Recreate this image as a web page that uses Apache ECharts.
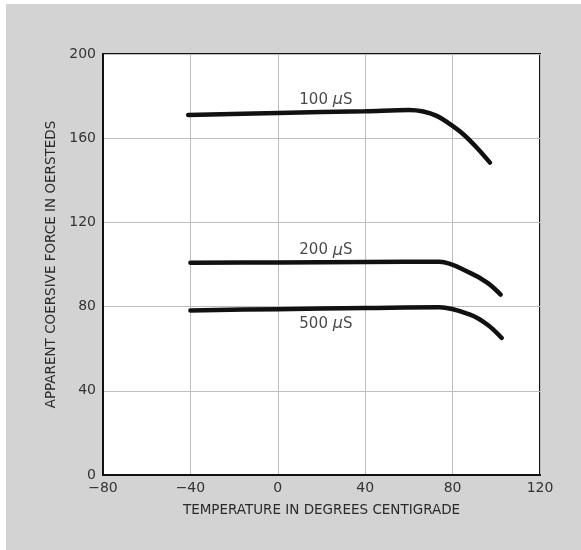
<!DOCTYPE html>
<html>
<head>
<meta charset="utf-8">
<script src="https://cdn.jsdelivr.net/npm/echarts@6/dist/echarts.min.js"></script>
<style>html,body{margin:0;padding:0;background:#fff}#c{width:581px;height:550px}</style>
</head>
<body>
<div id="c"></div>
<script>
var xTicks = [-80, -40, 0, 40, 80, 120];
var yTicks = [0, 40, 80, 120, 160, 200];

var temps100 = [-41, 0, 40, 60, 66.6, 72.7, 78.8, 84.9, 91, 97.1];
var vals100  = [171, 172, 172.8, 173.4, 172.7, 170.6, 166.7, 161.9, 155.6, 148.4];

var temps200 = [-40, 0, 40, 74, 88, 96, 102];
var vals200  = [100.8, 101, 101.2, 101.3, 96, 91.3, 85.7];

var temps500 = [-40, 0, 40, 74, 88, 96, 102.5];
var vals500  = [78.2, 78.8, 79.3, 79.7, 76.2, 71.4, 65.1];

var labelNames = ['100', '200', '500'];
var labelX = [22, 22, 22];
var labelY = [178, 106.7, 71.9];

function pairs(xs, ys) { return xs.map(function (x, i) { return [x, ys[i]]; }); }

var font = "'DejaVu Sans', sans-serif";
var chart = echarts.init(document.getElementById('c'), null, {renderer: 'canvas'});

function curve(xs, ys) {
  return {
    type: 'line', data: pairs(xs, ys), smooth: 0.35,
    showSymbol: false, symbol: 'none',
    lineStyle: {color: '#111', width: 4.5, cap: 'round'}, silent: true
  };
}

var labelSeries = {
  type: 'scatter', symbolSize: 1, silent: true, itemStyle: {color: 'rgba(0,0,0,0)'},
  data: labelNames.map(function (n, i) { return {value: [labelX[i], labelY[i]], name: n}; }),
  label: {
    show: true, position: 'inside', align: 'center', verticalAlign: 'middle',
    formatter: function (p) { return '{t|' + p.name + ' }{mu|\u03bc}{t|S}'; },
    rich: {
      t: {fontFamily: font, fontSize: 15, color: '#1a1a1a'},
      mu: {fontStyle: 'italic', fontSize: 16, fontFamily: font, color: '#1a1a1a'}
    }
  }
};

chart.setOption({
  animation: false,
  backgroundColor: '#ffffff',
  graphic: [{
    type: 'rect', shape: {x: 6, y: 4, width: 575, height: 546},
    style: {fill: '#d3d3d3'}, z: -10
  }],
  grid: {left: 103, right: 41, top: 54, bottom: 75, show: true,
         backgroundColor: '#ffffff', borderColor: '#111', borderWidth: 2},
  xAxis: {
    type: 'value', min: -80, max: 120, interval: 40,
    name: 'TEMPERATURE IN DEGREES CENTIGRADE', nameLocation: 'middle', nameGap: 28,
    nameTextStyle: {fontFamily: font, fontSize: 13.5, color: '#2a2a2a'},
    axisLine: {show: true, onZero: false, lineStyle: {color: '#111', width: 2}},
    axisTick: {show: false},
    axisLabel: {fontFamily: font, fontSize: 14, color: '#333', margin: 6,
                formatter: function (v) { return xTicks.indexOf(v) >= 0 ? String(v).replace('-', '\u2212') : ''; }},
    splitLine: {show: true, lineStyle: {color: '#bdbdbd', width: 1}}
  },
  yAxis: {
    type: 'value', min: 0, max: 200, interval: 40,
    name: 'APPARENT COERSIVE FORCE IN OERSTEDS', nameLocation: 'middle', nameGap: 34,
    nameTextStyle: {fontFamily: font, fontSize: 13.5, color: '#2a2a2a'},
    axisLine: {show: true, onZero: false, lineStyle: {color: '#111', width: 2}},
    axisTick: {show: false},
    axisLabel: {fontFamily: font, fontSize: 14, color: '#333', margin: 7,
                formatter: function (v) { return yTicks.indexOf(v) >= 0 ? String(v) : ''; }},
    splitLine: {show: true, lineStyle: {color: '#bdbdbd', width: 1}}
  },
  series: [curve(temps100, vals100), curve(temps200, vals200), curve(temps500, vals500), labelSeries]
});
</script>
</body>
</html>
